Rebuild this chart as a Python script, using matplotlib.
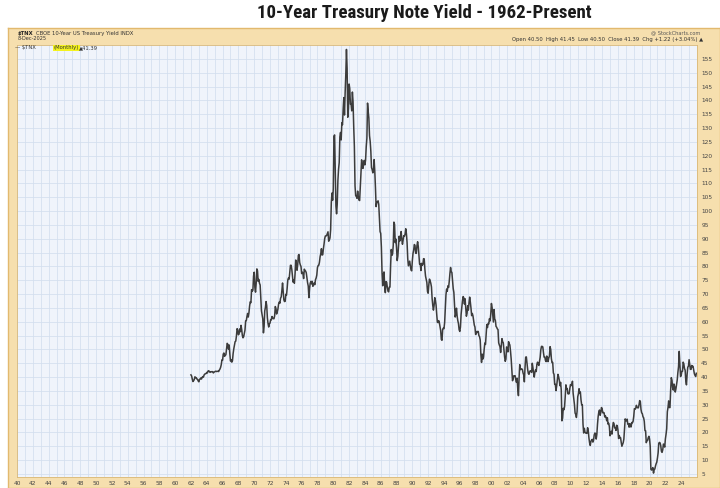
import numpy as np
import matplotlib
matplotlib.use("Agg")
import matplotlib.pyplot as plt
from matplotlib import font_manager

# ---------------- data (10-year yield, %, monthly) ----------------
start_year = 1962
yld_1960s = [
    4.08, 4.04, 3.93, 3.84, 3.87, 3.91, 4.01, 3.98, 3.98, 3.93, 3.92, 3.86,
    3.83, 3.92, 3.93, 3.97, 3.93, 3.99, 4.02, 4.00, 4.08, 4.11, 4.12, 4.13,
    4.17, 4.15, 4.22, 4.23, 4.20, 4.17, 4.19, 4.19, 4.20, 4.19, 4.15, 4.18,
    4.19, 4.21, 4.21, 4.20, 4.21, 4.21, 4.20, 4.25, 4.29, 4.35, 4.45, 4.62,
    4.61, 4.83, 4.87, 4.75, 4.78, 4.81, 5.02, 5.22, 5.18, 5.01, 5.16, 4.84,
    4.58, 4.63, 4.54, 4.59, 4.85, 5.02, 5.16, 5.28, 5.30, 5.48, 5.75, 5.70,
    5.53, 5.56, 5.74, 5.64, 5.87, 5.72, 5.50, 5.42, 5.46, 5.58, 5.70, 6.03,
    6.04, 6.19, 6.30, 6.17, 6.32, 6.57, 6.72, 6.69, 7.16, 7.10, 7.14, 7.65,
]
yld_1970s = [
    7.79, 7.24, 7.07, 7.39, 7.91, 7.84, 7.46, 7.53, 7.39, 7.33, 6.84, 6.39,
    6.24, 6.11, 5.60, 5.83, 6.39, 6.52, 6.73, 6.58, 6.14, 5.93, 5.81, 5.93,
    5.95, 6.08, 6.07, 6.19, 6.13, 6.11, 6.11, 6.21, 6.55, 6.48, 6.28, 6.36,
    6.46, 6.64, 6.71, 6.67, 6.85, 6.90, 7.13, 7.40, 7.09, 6.79, 6.73, 6.74,
    6.99, 6.96, 7.21, 7.51, 7.58, 7.54, 7.81, 8.04, 8.04, 7.90, 7.68, 7.43,
    7.50, 7.39, 7.73, 8.23, 8.06, 7.86, 8.06, 8.40, 8.43, 8.14, 8.05, 8.00,
    7.74, 7.79, 7.73, 7.56, 7.90, 7.86, 7.83, 7.77, 7.59, 7.41, 7.29, 6.87,
    7.21, 7.39, 7.46, 7.37, 7.46, 7.28, 7.33, 7.40, 7.34, 7.52, 7.58, 7.69,
    7.96, 8.03, 8.04, 8.15, 8.35, 8.46, 8.64, 8.41, 8.42, 8.64, 8.81, 9.01,
    9.10, 9.10, 9.12, 9.18, 9.25, 8.91, 8.95, 9.03, 9.33, 10.30, 10.65, 10.39,
]
yld_1980s = [
    10.80, 12.70, 12.75, 11.47, 10.18, 9.90, 10.25, 11.10, 11.51, 11.75, 12.68, 12.84,
    12.57, 13.19, 13.12, 13.68, 14.10, 13.47, 14.28, 14.94, 15.84, 15.15, 13.39, 13.72,
    14.59, 14.43, 13.86, 13.87, 13.62, 14.30, 13.95, 13.06, 12.34, 10.91, 10.55, 10.54,
    10.46, 10.72, 10.51, 10.40, 10.38, 10.85, 11.38, 11.85, 11.65, 11.54, 11.69, 11.83,
    11.67, 11.84, 12.32, 12.63, 13.90, 13.60, 13.36, 12.72, 12.52, 12.16, 11.57, 11.50,
    11.38, 11.51, 11.86, 11.43, 10.85, 10.16, 10.31, 10.33, 10.37, 10.24, 9.78, 9.26,
    9.19, 8.70, 7.78, 7.30, 7.71, 7.80, 7.30, 7.05, 7.45, 7.43, 7.25, 7.11,
    7.08, 7.25, 7.25, 8.02, 8.61, 8.40, 8.45, 8.76, 9.60, 9.52, 8.86, 8.99,
    8.67, 8.21, 8.37, 8.72, 9.09, 8.92, 9.06, 9.26, 8.98, 8.80, 8.96, 9.11,
    9.09, 9.17, 9.36, 9.18, 8.86, 8.28, 8.02, 8.11, 8.19, 8.01, 7.87, 7.84,
]
yld_1990s = [
    8.21, 8.47, 8.59, 8.79, 8.76, 8.48, 8.47, 8.75, 8.89, 8.72, 8.39, 8.08,
    8.09, 7.85, 8.11, 8.04, 8.07, 8.28, 8.27, 7.90, 7.65, 7.53, 7.42, 7.09,
    7.03, 7.34, 7.54, 7.48, 7.39, 7.26, 6.84, 6.59, 6.42, 6.59, 6.87, 6.77,
    6.60, 6.26, 5.98, 5.97, 6.04, 5.96, 5.81, 5.68, 5.36, 5.33, 5.72, 5.77,
    5.75, 5.97, 6.48, 6.97, 7.18, 7.10, 7.30, 7.24, 7.46, 7.74, 7.96, 7.81,
    7.78, 7.47, 7.20, 7.06, 6.63, 6.17, 6.28, 6.49, 6.20, 6.04, 5.93, 5.71,
    5.65, 5.81, 6.27, 6.51, 6.74, 6.91, 6.87, 6.64, 6.83, 6.53, 6.20, 6.30,
    6.58, 6.42, 6.69, 6.89, 6.71, 6.49, 6.22, 6.30, 6.21, 6.03, 5.88, 5.81,
    5.54, 5.57, 5.65, 5.64, 5.65, 5.50, 5.46, 5.34, 4.81, 4.53, 4.83, 4.65,
    4.72, 5.00, 5.23, 5.18, 5.54, 5.90, 5.79, 5.94, 5.92, 6.11, 6.03, 6.28,
]
yld_2000s = [
    6.66, 6.52, 6.26, 5.99, 6.44, 6.10, 6.05, 5.83, 5.80, 5.74, 5.72, 5.24,
    5.16, 5.10, 4.89, 5.14, 5.39, 5.28, 5.24, 4.97, 4.73, 4.57, 4.65, 5.09,
    5.04, 4.91, 5.28, 5.21, 5.16, 4.93, 4.65, 4.26, 3.87, 3.94, 4.05, 4.03,
    4.05, 3.90, 3.81, 3.96, 3.57, 3.33, 3.98, 4.45, 4.27, 4.29, 4.30, 4.27,
    4.15, 4.08, 3.83, 4.35, 4.72, 4.73, 4.50, 4.28, 4.13, 4.10, 4.19, 4.23,
    4.22, 4.17, 4.50, 4.34, 4.14, 4.00, 4.18, 4.26, 4.20, 4.46, 4.54, 4.47,
    4.42, 4.57, 4.72, 4.99, 5.11, 5.11, 5.09, 4.88, 4.72, 4.73, 4.60, 4.56,
    4.76, 4.72, 4.56, 4.69, 4.75, 5.10, 5.00, 4.67, 4.52, 4.53, 4.15, 4.10,
    3.74, 3.74, 3.51, 3.68, 3.88, 4.10, 4.01, 3.89, 3.69, 3.81, 3.53, 2.42,
    2.52, 2.87, 2.82, 2.93, 3.29, 3.72, 3.56, 3.59, 3.40, 3.39, 3.40, 3.59,
]
yld_2010s = [
    3.73, 3.69, 3.73, 3.85, 3.42, 3.20, 3.01, 2.70, 2.65, 2.54, 2.76, 3.29,
    3.39, 3.58, 3.41, 3.46, 3.17, 3.00, 3.00, 2.30, 1.98, 2.15, 2.01, 1.98,
    1.97, 1.97, 2.17, 2.05, 1.80, 1.62, 1.53, 1.68, 1.72, 1.75, 1.65, 1.72,
    1.91, 1.98, 1.96, 1.76, 1.93, 2.30, 2.58, 2.74, 2.81, 2.62, 2.72, 2.90,
    2.86, 2.71, 2.72, 2.71, 2.56, 2.60, 2.54, 2.42, 2.53, 2.30, 2.33, 2.21,
    1.88, 1.98, 2.04, 1.94, 2.20, 2.36, 2.32, 2.17, 2.17, 2.07, 2.26, 2.24,
    2.09, 1.78, 1.89, 1.81, 1.81, 1.64, 1.50, 1.56, 1.63, 1.76, 2.14, 2.49,
    2.43, 2.42, 2.48, 2.30, 2.30, 2.19, 2.32, 2.21, 2.20, 2.36, 2.35, 2.40,
    2.58, 2.86, 2.84, 2.87, 2.98, 2.91, 2.89, 2.89, 3.00, 3.15, 3.12, 2.83,
    2.71, 2.68, 2.57, 2.53, 2.40, 2.07, 2.06, 1.63, 1.70, 1.71, 1.81, 1.86,
]
yld_2020s = [
    1.76, 1.50, 0.67, 0.64, 0.67, 0.73, 0.53, 0.65, 0.68, 0.79, 0.87, 0.93,
    1.08, 1.26, 1.61, 1.64, 1.62, 1.52, 1.32, 1.28, 1.37, 1.58, 1.56, 1.47,
    1.76, 1.93, 2.13, 2.75, 2.90, 3.14, 2.90, 2.90, 3.52, 3.98, 3.89, 3.62,
    3.53, 3.75, 3.66, 3.46, 3.57, 3.75, 3.90, 4.17, 4.38, 4.93, 4.50, 4.02,
    4.06, 4.21, 4.21, 4.54, 4.48, 4.31, 4.25, 3.87, 3.72, 4.10, 4.36, 4.39,
    4.63, 4.45, 4.28, 4.28, 4.42, 4.38, 4.39, 4.26, 4.12, 4.06, 4.02, 4.139,
]

y_ticks = list(range(5, 160, 5))
x_tick_years = list(range(1940, 2025, 2))
x_tick_labels = [f"{y % 100:02d}" for y in x_tick_years]

title = "10-Year Treasury Note Yield - 1962-Present"
header_sym = "$TNX"
header_left = "CBOE 10-Year US Treasury Yield INDX"
header_date = "8-Dec-2025"
header_right = "@ StockCharts.com"
header_ohlc = "Open 40.50  High 41.45  Low 40.50  Close 41.39  Chg +1.22 (+3.04%) \u25b2"

# ---------------- build series ----------------
vals = np.array(yld_1960s + yld_1970s + yld_1980s + yld_1990s +
                yld_2000s + yld_2010s + yld_2020s) * 10.0
xs = start_year + np.arange(len(vals)) / 12.0

# ---------------- fonts ----------------
avail = {f.name for f in font_manager.fontManager.ttflist}
title_font = "DejaVu Sans"
for cand in ["Liberation Sans Narrow", "Roboto Condensed", "DejaVu Sans Condensed", "Roboto"]:
    if cand in avail:
        title_font = cand
        break

W, H = 720, 488
fig = plt.figure(figsize=(7.2, 4.88), dpi=100)
fig.patch.set_facecolor("white")

def fx(px):
    return px / W

def fy(py):
    return 1 - py / H

# tan frame (background axes so it sits behind the plot)
bg = fig.add_axes([fx(8), 0, 1 - fx(8), fy(28)], zorder=-5)
bg.set_facecolor("#f6dfae")
bg.set_xticks([])
bg.set_yticks([])
for s in bg.spines.values():
    s.set_color("#e2b96e")
    s.set_linewidth(1.0)

# title
fig.text(fx(424), fy(13), title, ha="center", va="center", fontsize=13.6,
         fontweight="bold", family=title_font, color="#1a1a1a")

# header texts
fig.text(fx(18), fy(33), header_sym, ha="left", va="center", fontsize=3.8,
         fontweight="bold", color="#222222")
fig.text(fx(36), fy(33), header_left, ha="left", va="center", fontsize=3.8, color="#333333")
fig.text(fx(18), fy(39), header_date, ha="left", va="center", fontsize=3.6, color="#333333")
fig.text(fx(700), fy(33), header_right, ha="right", va="center", fontsize=3.6, color="#555555")
fig.text(fx(703), fy(39), header_ohlc, ha="right", va="center", fontsize=3.8, color="#333333")

# main axes
ax = fig.add_axes([fx(17), fy(477), fx(697) - fx(17), fy(45) - fy(477)], zorder=1)
ax.set_facecolor("#f0f4fb")
ax.set_xlim(1940.1, 2026.0)
ax.set_ylim(3.9, 160)

all_years = list(range(1940, 2027))
ax.set_xticks(all_years)
ax.set_yticks(y_ticks)
ax.grid(True, which="major", color="#d3deee", linewidth=0.55)
ax.set_axisbelow(True)

ax.yaxis.tick_right()
ax.set_yticklabels([str(t) for t in y_ticks], fontsize=4.2, color="#444444")
ax.set_xticklabels([x_tick_labels[x_tick_years.index(y)] if y in x_tick_years else ""
                    for y in all_years], fontsize=4.2, color="#444444")
ax.tick_params(axis="both", length=0, pad=3)

for s in ax.spines.values():
    s.set_color("#d9b878")
    s.set_linewidth(0.6)

ax.plot(xs, vals, color="#3c3c3c", linewidth=1.1)

# legend text inside plot
fig.text(fx(15), fy(48), "\u2014 $TNX", ha="left", va="center", fontsize=3.8,
         color="#333333", zorder=5)
fig.text(fx(54), fy(48), "(Monthly)", ha="left", va="center", fontsize=3.8, color="#333333",
         zorder=5, bbox=dict(boxstyle="square,pad=0.15", facecolor="#f4f21e", edgecolor="none"))
fig.text(fx(79), fy(48), "\u25b241.39", ha="left", va="center", fontsize=3.8,
         color="#333333", zorder=5)

fig.savefig("out.png", dpi=100)
